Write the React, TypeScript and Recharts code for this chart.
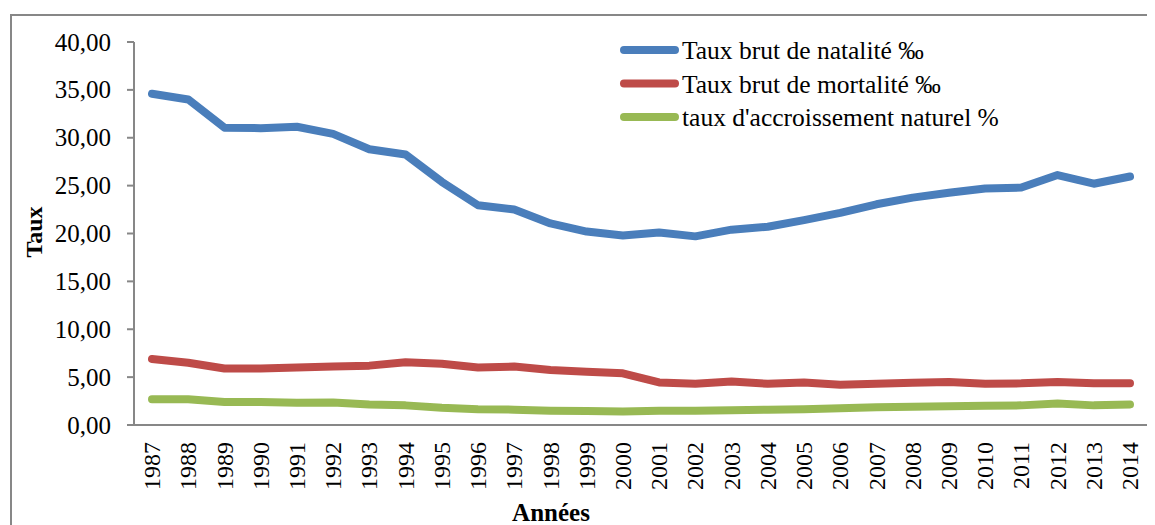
import React from 'react';
import { LineChart, Line, XAxis, YAxis, Legend, Label } from 'recharts';

// Années
const years = [
  '1987', '1988', '1989', '1990', '1991', '1992', '1993', '1994', '1995', '1996',
  '1997', '1998', '1999', '2000', '2001', '2002', '2003', '2004', '2005', '2006',
  '2007', '2008', '2009', '2010', '2011', '2012', '2013', '2014',
];

// Taux brut de natalité ‰
const natalite = [
  34.6, 34.0, 31.05, 31.0, 31.15, 30.4, 28.8, 28.25, 25.4, 22.95,
  22.5, 21.05, 20.2, 19.8, 20.1, 19.7, 20.4, 20.7, 21.4, 22.15,
  23.05, 23.75, 24.25, 24.7, 24.8, 26.1, 25.2, 25.95,
];

// Taux brut de mortalité ‰
const mortalite = [
  6.9, 6.5, 5.9, 5.9, 6.0, 6.1, 6.2, 6.55, 6.4, 6.0,
  6.1, 5.75, 5.55, 5.4, 4.45, 4.3, 4.55, 4.3, 4.45, 4.2,
  4.3, 4.4, 4.5, 4.3, 4.35, 4.5, 4.35, 4.35,
];

// taux d'accroissement naturel %
const accroissement = [
  2.7, 2.7, 2.4, 2.4, 2.33, 2.35, 2.15, 2.05, 1.8, 1.65,
  1.6, 1.5, 1.45, 1.4, 1.5, 1.5, 1.55, 1.6, 1.65, 1.75,
  1.85, 1.9, 1.95, 2.0, 2.05, 2.25, 2.05, 2.15,
];

const seriesNames = ['Taux brut de natalité ‰', 'Taux brut de mortalité ‰', "taux d'accroissement naturel %"];

const yTicks = [0, 5, 10, 15, 20, 25, 30, 35, 40];

const FONT = '"Liberation Serif", "Times New Roman", serif';
const AXIS = '#878787';

const data = years.map((year, i) => ({
  year,
  natalite: natalite[i],
  mortalite: mortalite[i],
  accroissement: accroissement[i],
}));

const YTick = ({ x, y, payload }: any) => (
  <text x={x} y={y} dy="0.34em" textAnchor="end" fontFamily={FONT} fontSize={25} fill="#000">
    {Number(payload.value).toFixed(2).replace('.', ',')}
  </text>
);

const XTick = ({ x, y, payload }: any) => (
  <text
    x={x}
    y={y}
    dy="0.34em"
    textAnchor="end"
    transform={`rotate(-90, ${x}, ${y})`}
    fontFamily={FONT}
    fontSize={24}
    fill="#000"
  >
    {payload.value}
  </text>
);

const LegendBox = ({ payload }: any) => {
  // keep the series order, not alphabetical
  const items = seriesNames
    .map((n) => (payload || []).find((p: any) => p.value === n))
    .filter(Boolean);
  return (
    <svg width={460} height={110}>
      {items.map((entry: any, i: number) => {
        const cy = 22 + i * 33.5;
        return (
          <g key={entry.value}>
            <line x1={16} x2={67} y1={cy} y2={cy} stroke={entry.color} strokeWidth={8} strokeLinecap="round" />
            <text x={74} y={cy + 9} fontFamily={FONT} fontSize={25.5} fill="#000">
              {entry.value}
            </text>
          </g>
        );
      })}
    </svg>
  );
};

const App = () => {
  return (
    <div style={{ position: 'relative', width: 1147, height: 517, overflow: 'hidden', background: '#fff' }}>
      <div
        style={{
          position: 'absolute',
          left: 2,
          top: 6,
          width: 1200,
          height: 600,
          border: `2px solid ${AXIS}`,
        }}
      />
      <div style={{ position: 'absolute', left: 0, top: 0 }}>
        <LineChart width={1147} height={517} data={data} margin={{ top: 34, right: 7, bottom: 20, left: 26 }}>
          <XAxis
            dataKey="year"
            interval={0}
            padding={{ left: 18, right: 18 }}
            tickLine={false}
            tickSize={0}
            tickMargin={17}
            height={80}
            axisLine={{ stroke: AXIS, strokeWidth: 2 }}
            tick={<XTick />}
          >
            <Label
              content={() => (
                <text x={543} y={513} textAnchor="middle" fontFamily={FONT} fontSize={25} fontWeight="bold" fill="#000">
                  Années
                </text>
              )}
            />
          </XAxis>
          <YAxis
            domain={[0, 40]}
            ticks={yTicks}
            width={100}
            tickSize={7}
            tickMargin={16}
            axisLine={{ stroke: AXIS, strokeWidth: 2 }}
            tickLine={{ stroke: AXIS, strokeWidth: 2 }}
            tick={<YTick />}
          >
            <Label
              content={() => (
                <text
                  x={34}
                  y={224}
                  textAnchor="middle"
                  transform="rotate(-90, 34, 224)"
                  fontFamily={FONT}
                  fontSize={24}
                  fontWeight="bold"
                  fill="#000"
                >
                  Taux
                </text>
              )}
            />
          </YAxis>
          <Legend
            layout="horizontal"
            verticalAlign="middle"
            align="center"
            content={<LegendBox />}
            wrapperStyle={{ position: 'absolute', left: 600, top: 20, width: 460, height: 110 }}
          />
          <Line
            type="linear"
            dataKey="natalite"
            name={seriesNames[0]}
            stroke="#4A7EBB"
            strokeWidth={8}
            strokeLinecap="round"
            strokeLinejoin="round"
            dot={false}
            activeDot={false}
            isAnimationActive={false}
          />
          <Line
            type="linear"
            dataKey="mortalite"
            name={seriesNames[1]}
            stroke="#BE4B48"
            strokeWidth={8}
            strokeLinecap="round"
            strokeLinejoin="round"
            dot={false}
            activeDot={false}
            isAnimationActive={false}
          />
          <Line
            type="linear"
            dataKey="accroissement"
            name={seriesNames[2]}
            stroke="#98B954"
            strokeWidth={8}
            strokeLinecap="round"
            strokeLinejoin="round"
            dot={false}
            activeDot={false}
            isAnimationActive={false}
          />
        </LineChart>
      </div>
    </div>
  );
};

export default App;
